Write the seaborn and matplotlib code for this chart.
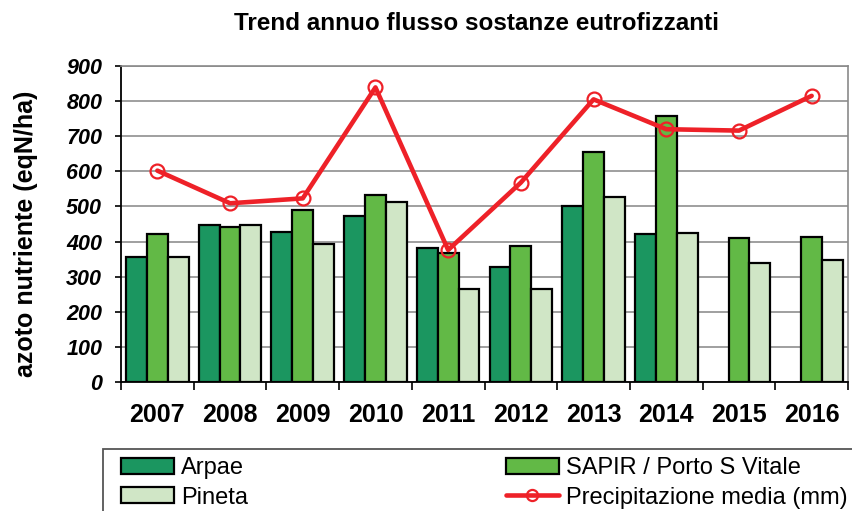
import numpy as np
import pandas as pd
import seaborn as sns
import matplotlib
matplotlib.use("Agg")
import matplotlib.pyplot as plt
from matplotlib.patches import Rectangle
from matplotlib.ticker import FixedLocator, MultipleLocator

# --- data -------------------------------------------------------------
anni = ["2007", "2008", "2009", "2010", "2011", "2012", "2013", "2014", "2015", "2016"]
arpae = [355, 447, 428, 473, 381, 328, 501, 421, np.nan, np.nan]
sapir = [421, 442, 490, 534, 366, 387, 654, 758, 409, 412]
pineta = [355, 447, 393, 512, 264, 264, 528, 425, 338, 347]
precipitazione = [602, 509, 523, 839, 376, 568, 805, 720, 716, 815]

serie = ["Arpae", "SAPIR / Porto S Vitale", "Pineta"]
colori = ["#1b9660", "#62b946", "#d0e6c6"]
rosso = "#ee2128"

df = pd.DataFrame({
    "anno": anni * 3,
    "valore": arpae + sapir + pineta,
    "stazione": [s for s in serie for _ in anni],
})

# --- figure -----------------------------------------------------------
sns.set_style("white")
plt.rcParams["font.family"] = ["Liberation Sans", "DejaVu Sans"]
plt.rcParams["text.color"] = "black"
plt.rcParams["axes.labelcolor"] = "black"
plt.rcParams["xtick.color"] = "black"
plt.rcParams["ytick.color"] = "black"

W, H = 853, 511
fig = plt.figure(figsize=(W / 100, H / 100), dpi=100)
ax = fig.add_axes([121 / W, 1 - 382 / H, (848 - 121) / W, (382 - 66) / H])

sns.barplot(
    data=df, x="anno", y="valore", hue="stazione", hue_order=serie,
    order=anni, palette=colori, width=0.86, edgecolor="black",
    linewidth=1.6, errorbar=None, ax=ax, zorder=3, saturation=1,
)

pos = np.arange(len(anni))
sns.lineplot(
    x=pos, y=precipitazione, ax=ax, color=rosso, linewidth=3.3,
    marker="o", markersize=10, markerfacecolor="none",
    markeredgecolor=rosso, markeredgewidth=1.6,
    label="Precipitazione media (mm)", zorder=5,
)

# --- axes styling -----------------------------------------------------
ax.set_xlim(-0.5, len(anni) - 0.5)
ax.set_ylim(0, 900)
ax.yaxis.set_major_locator(MultipleLocator(100))
ax.grid(axis="y", color="#8f8f8f", linewidth=1.2, zorder=0)
ax.grid(axis="x", visible=False)
ax.set_axisbelow(True)

for side in ["top", "right"]:
    ax.spines[side].set_color("#8a8a8a")
    ax.spines[side].set_linewidth(1.2)
for side in ["left", "bottom"]:
    ax.spines[side].set_color("black")
    ax.spines[side].set_linewidth(1.3)

ax.set_xticks(pos)
ax.set_xticklabels(anni, fontsize=18, fontweight="bold", color="black")
ax.xaxis.set_minor_locator(FixedLocator(np.arange(-0.5, len(anni), 1.0)))
ax.tick_params(axis="x", which="major", length=0, pad=15)
ax.tick_params(axis="x", which="minor", length=5.5, width=1.2,
               direction="out", color="black", bottom=True)
ax.tick_params(axis="y", which="major", length=4.5, width=1.2,
               direction="out", color="black", left=True, pad=9)
for lbl in ax.get_yticklabels():
    lbl.set_fontsize(15.5)
    lbl.set_fontweight("bold")
    lbl.set_fontstyle("italic")
    lbl.set_color("black")

ax.set_xlabel("")
ax.set_ylabel("azoto nutriente (eqN/ha)", fontsize=18, fontweight="bold",
              color="black")
ax.yaxis.set_label_coords(-0.114, 0.468)

fig.text(477 / W, 1 - 24 / H, "Trend annuo flusso sostanze eutrofizzanti",
         ha="center", va="center", fontsize=17.5, fontweight="bold",
         color="black")

# --- legend -----------------------------------------------------------
handles, labels = ax.get_legend_handles_labels()
ax.get_legend().remove()
lookup = dict(zip(labels, handles))
ordine = ["Arpae", "Pineta", "SAPIR / Porto S Vitale", "Precipitazione media (mm)"]

fig.patches.append(Rectangle((103 / W, -0.05), 0.9, 1 - 449 / H + 0.05,
                             transform=fig.transFigure, facecolor="none",
                             edgecolor="#555555", linewidth=1.3))
leg = fig.legend(
    [lookup[k] for k in ordine], ordine, loc="upper left",
    bbox_to_anchor=(121 / W, 1 - 457 / H), ncol=2, frameon=False,
    fontsize=17, handlelength=2.25, handleheight=0.68,
    handletextpad=0.3, columnspacing=10.9, labelspacing=0.32,
    borderpad=0, borderaxespad=0,
)
for t in leg.get_texts():
    t.set_color("black")
for h in leg.legend_handles[:3]:
    h.set_edgecolor("black")
    h.set_linewidth(1.6)
leg.legend_handles[3].set_markersize(8)

fig.savefig("out.png", dpi=100)
